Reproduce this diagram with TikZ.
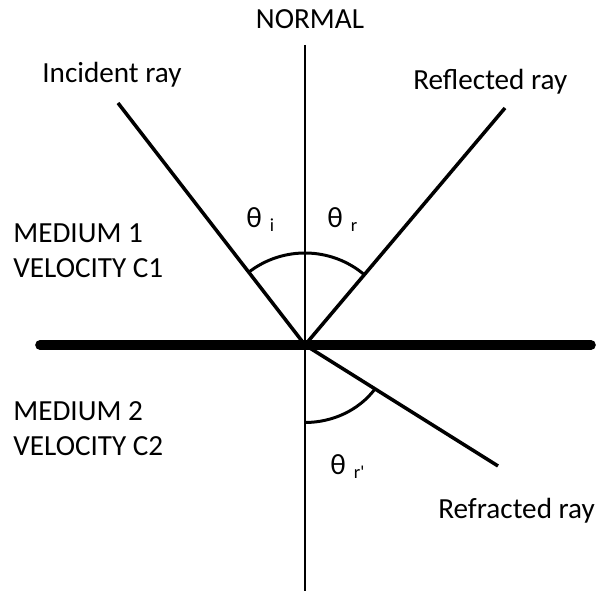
\documentclass[tikz,border=0pt]{standalone}
\usepackage{fontspec}
\setmainfont{Carlito}
\tikzset{
  ray/.style={line width=2pt},
  anglearc/.style={line width=1.7pt},
  lbl/.style={font=\fontsize{16.6}{19.9}\selectfont, inner sep=0pt}
}
\newcommand{\sbs}[1]{\hspace{0.16cm}\raisebox{-0.08cm}{\fontsize{10.5}{10.5}\selectfont #1}}

\begin{document}
\begin{tikzpicture}[scale=1]
\useasboundingbox (-6.1,-4.92) rectangle (5.86,6.9);
\coordinate (O) at (0,0);
\coordinate (normaltop) at (0,6.0);
\coordinate (normalbot) at (0,-4.95);
\coordinate (surfl) at (-5.3,0);
\coordinate (surfr) at (5.72,0);
\coordinate (inc) at (-3.74,4.84);
\coordinate (refl) at (4.0,4.74);
\coordinate (refr) at (3.86,-2.42);
\draw[line width=0.8pt] (normaltop)--(normalbot);
\draw[line width=5.5pt, line cap=round] (surfl)--(surfr);
\draw[ray] (inc)--(O);
\draw[ray] (O)--(refl);
\draw[ray] (O)--(refr);
\draw[anglearc] (O) ++(127.7:1.84) arc[start angle=127.7, end angle=49.8, radius=1.84];
\draw[anglearc] (O) ++(0,-1.55) arc[start angle=-90, end angle=-35, x radius=1.7, y radius=1.55];
\node[lbl, anchor=base] (normal) at (0.1,6.32) {NORMAL};
\node[lbl, anchor=base west] (incident) at (-5.26,5.24) {Incident ray};
\node[lbl, anchor=base west] (reflected) at (2.16,5.1) {Reflected ray};
\node[lbl, anchor=base west] (refracted) at (2.66,-3.48) {Refracted ray};
\node[lbl, anchor=west, align=left] (medium1) at (-5.84,1.88) {MEDIUM 1\\VELOCITY C1};
\node[lbl, anchor=west, align=left] (medium2) at (-5.84,-1.67) {MEDIUM 2\\VELOCITY C2};
\node[lbl, anchor=base west] (thetai) at (-1.18,2.34) {θ\sbs{i}};
\node[lbl, anchor=base west] (thetar) at (0.44,2.34) {θ\sbs{r}};
\node[lbl, anchor=base west] (thetarr) at (0.5,-2.6) {θ\sbs{r\textquotesingle}};
\end{tikzpicture}
\end{document}
